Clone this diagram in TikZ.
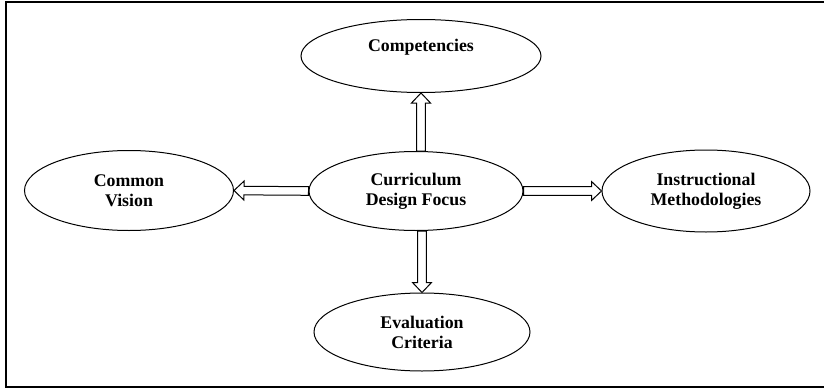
\documentclass[tikz,border=0pt]{standalone}
\usepackage{fontspec}
\setmainfont{Liberation Serif}
\usetikzlibrary{shapes.geometric,calc}
\tikzset{
  ell/.style={draw, ellipse, line width=1pt, inner sep=0pt, align=center,
    font=\bfseries\fontsize{17.8}{20}\selectfont},
  lab/.style={font=\bfseries\fontsize{17.8}{20}\selectfont},
  frame/.style={line width=2pt},
  blockarrow/.style={draw, fill=white, line width=1pt, line join=miter,
   to path={
   let \p1=(\tikztostart), \p2=(\tikztotarget),
       \n1={veclen(\x2-\x1,\y2-\y1)},
       \n2={(\x2-\x1)/\n1}, \n3={(\y2-\y1)/\n1}
   in ({\x1-(\n3)*4.3pt},{\y1+(\n2)*4.3pt})
   -- ({\x2-(\n2)*10pt-(\n3)*4.3pt},{\y2-(\n3)*10pt+(\n2)*4.3pt})
   -- ({\x2-(\n2)*10pt-(\n3)*9.5pt},{\y2-(\n3)*10pt+(\n2)*9.5pt})
   -- (\p2)
   -- ({\x2-(\n2)*10pt+(\n3)*9.5pt},{\y2-(\n3)*10pt-(\n2)*9.5pt})
   -- ({\x2-(\n2)*10pt+(\n3)*4.3pt},{\y2-(\n3)*10pt-(\n2)*4.3pt})
   -- ({\x1+(\n3)*4.3pt},{\y1-(\n2)*4.3pt})
   -- cycle}}
}
\begin{document}
\begin{tikzpicture}[x=1pt,y=-1pt]
\useasboundingbox (0,0) rectangle (824,388);
\draw[frame] (830,2) -- (6,2) -- (6,387) -- (830,387);

\node[ell, minimum width=240pt, minimum height=73pt,
  label={[lab, yshift=9pt]center:Competencies}] (comp) at (421,56) {};
\node[ell, minimum width=209pt, minimum height=80pt] (cv) at (129,190.5) {Common\\Vision};
\node[ell, minimum width=214pt, minimum height=79pt] (cdf) at (416,191) {Curriculum\\Design Focus};
\node[ell, minimum width=208pt, minimum height=82pt] (im) at (706,191) {Instructional\\Methodologies};
\node[ell, minimum width=216pt, minimum height=78pt] (eval) at (422,332) {Evaluation\\Criteria};

\path[blockarrow] (comp.south |- cdf.north) to (comp.south);
\path[blockarrow] (eval.north |- cdf.south) to (eval.north);
\path[blockarrow] (cdf.west) to (cv.east);
\path[blockarrow] (cdf.east) to (im.west);
\end{tikzpicture}
\end{document}
